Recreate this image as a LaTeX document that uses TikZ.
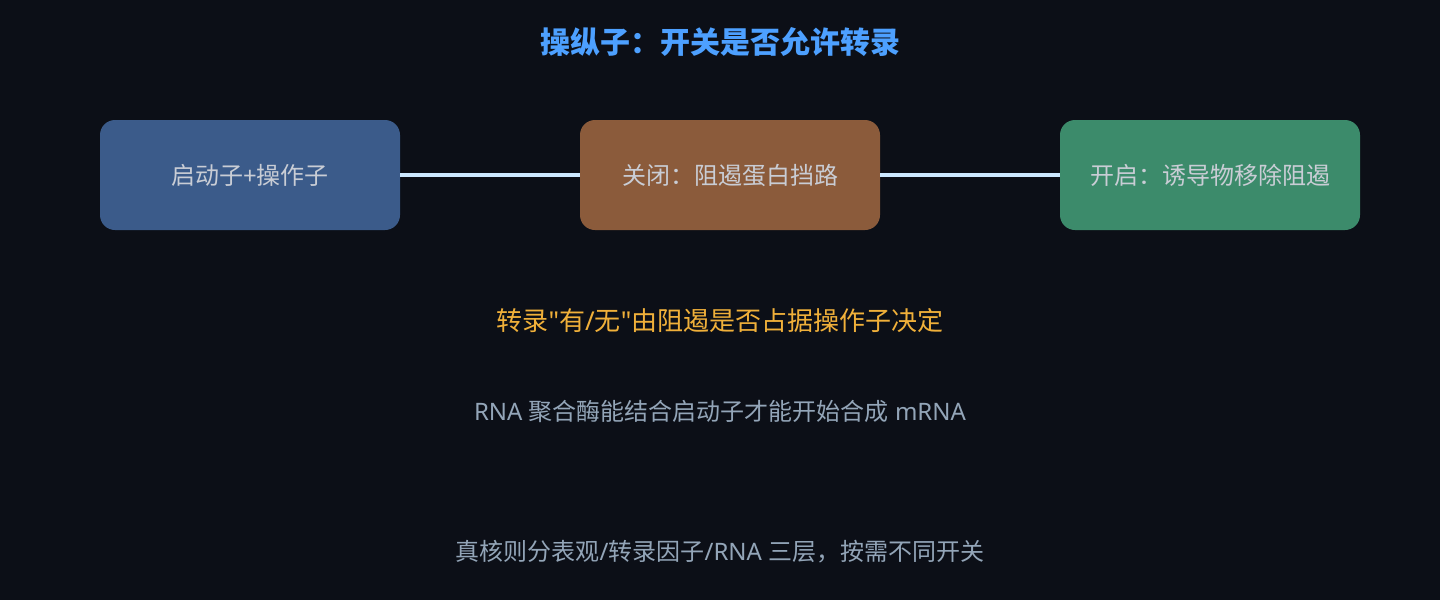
\documentclass[tikz,border=0pt]{standalone}
\usepackage{fontspec}
\setmainfont{Noto Sans CJK SC}
\newfontfamily\latinfont{Noto Sans}
\newcommand{\lat}[1]{{\latinfont #1}}
\definecolor{bgdark}{HTML}{0C0F17}
\definecolor{promblue}{HTML}{3B5B8A}
\definecolor{offbrown}{HTML}{8B5B3B}
\definecolor{ongreen}{HTML}{3C8B6B}
\definecolor{boxtext}{HTML}{C9CDD5}
\definecolor{linkblue}{HTML}{CCE8FF}
\definecolor{titleblue}{HTML}{4DA0FF}
\definecolor{noteorange}{HTML}{F0B03A}
\definecolor{notegray}{HTML}{93A5B8}
\tikzset{
  switchbox/.style={rounded corners=15pt, minimum width=300pt, minimum height=110pt,
    text=boxtext, font=\fontsize{24}{28}\selectfont, inner sep=0pt},
  note/.style={text=notegray, font=\fontsize{24}{28}\selectfont}
}
\begin{document}
\begin{tikzpicture}[x=1pt,y=-1pt]

%% background
\fill [bgdark] (0,0) rectangle (1440,600);
\useasboundingbox (0,0) rectangle (1440,600);

%% title
\node [text=titleblue, font=\fontsize{30}{34}\selectfont\bfseries] (title) at (720,42) {操纵子：开关是否允许转录};

%% the three states
\node [switchbox, fill=promblue] (promoter) at (250,175) {启动子\lat{+}操作子};
\node [switchbox, fill=offbrown] (repressed) at (730,175) {关闭：阻遏蛋白挡路};
\node [switchbox, fill=ongreen] (induced) at (1210,175) {开启：诱导物移除阻遏};

\draw [linkblue, line width=3.5pt] (promoter) -- (repressed);
\draw [linkblue, line width=3.5pt] (repressed) -- (induced);

%% notes
\node [text=noteorange, font=\fontsize{26}{30}\selectfont] (rule) at (720,321) {转录\lat{"}有\lat{/}无\lat{"}由阻遏是否占据操作子决定};
\node [note] (polymerase) at (720,411) {\lat{RNA }聚合酶能结合启动子才能开始合成\lat{ mRNA}};
\node [note] (eukaryote) at (720,552) {真核则分表观\lat{/}转录因子\lat{/RNA }三层，按需不同开关};

\end{tikzpicture}
\end{document}
